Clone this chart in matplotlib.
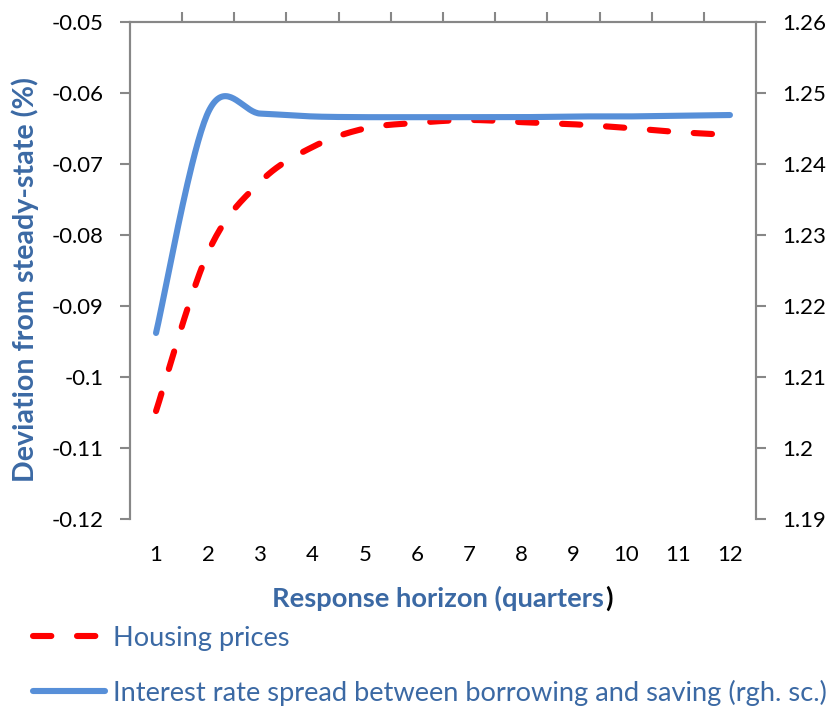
import matplotlib
matplotlib.use("Agg")
import matplotlib.pyplot as plt
from matplotlib.lines import Line2D
import numpy as np

plt.rcParams['font.family'] = ['Lato', 'DejaVu Sans']

quarters = [1, 2, 3, 4, 5, 6, 7, 8, 9, 10, 11, 12]
housing_prices = [-0.1048, -0.0824, -0.0725, -0.0676, -0.0650, -0.0642,
                  -0.0638, -0.0641, -0.0644, -0.0649, -0.0655, -0.0659]
rate_spread = [1.2162, 1.2473, 1.2471, 1.2467, 1.2466, 1.2466,
               1.2466, 1.2466, 1.2467, 1.2467, 1.2468, 1.2469]

left_ticks = [-0.12, -0.11, -0.1, -0.09, -0.08, -0.07, -0.06, -0.05]
left_labels = ['-0.12', '-0.11', '-0.1', '-0.09', '-0.08', '-0.07', '-0.06', '-0.05']
right_ticks = [1.19, 1.2, 1.21, 1.22, 1.23, 1.24, 1.25, 1.26]
right_labels = ['1.19', '1.2', '1.21', '1.22', '1.23', '1.24', '1.25', '1.26']

RED = '#FF0000'
BLUE = '#578FD8'
TXT = '#3B69A4'
GREY = '#878787'


def smooth(x, y, n=40):
    # spreadsheet-style smoothed line: cubic bezier with catmull-rom handles
    p = np.column_stack([x, y]).astype(float)
    ext = np.vstack([p[0], p, p[-1]])
    out = []
    for i in range(len(p) - 1):
        p0, p1, p2, p3 = ext[i], ext[i + 1], ext[i + 2], ext[i + 3]
        c1 = p1 + (p2 - p0) / 6.0
        c2 = p2 - (p3 - p1) / 6.0
        t = np.linspace(0, 1, n)[:, None]
        seg = ((1 - t) ** 3) * p1 + 3 * ((1 - t) ** 2) * t * c1 \
            + 3 * (1 - t) * t ** 2 * c2 + t ** 3 * p2
        out.append(seg if i == 0 else seg[1:])
    out = np.vstack(out)
    return out[:, 0], out[:, 1]


fig = plt.figure(figsize=(8.33, 7.06), dpi=100)


def size_for(text, px, weight='normal', rot=0):
    # font size that makes `text` span `px` pixels
    t = fig.text(0, 0, text, fontsize=20, fontweight=weight, rotation=rot)
    fig.canvas.draw()
    bb = t.get_window_extent()
    t.remove()
    return 20 * px / (bb.height if rot else bb.width)


tick_fs = size_for('-0.12', 52)
ylab_fs = size_for('Deviation from steady-state (%)', 405, 'bold', 90)
xlab_fs = size_for('Response horizon (quarters)', 340, 'bold')
leg_fs = size_for('Interest rate spread between borrowing and saving (rgh. sc.)', 718)

ax = fig.add_axes([0.156, 0.2649, 0.7516, 0.7039])
ax2 = ax.twinx()

hx, hy = smooth(quarters, housing_prices)
sx, sy = smooth(quarters, rate_spread)
ax.plot(hx, hy, color=RED, lw=4.4, dashes=(3.0, 4.2),
        dash_capstyle='round', solid_capstyle='round')
ax2.plot(sx, sy, color=BLUE, lw=4.4, solid_capstyle='round')

ax.set_xlim(0.5, 12.5)
ax.set_ylim(-0.12, -0.05)
ax2.set_ylim(1.19, 1.26)

ax.set_yticks(left_ticks)
ax.set_yticklabels(left_labels)
ax2.set_yticks(right_ticks)
ax2.set_yticklabels(right_labels)

ax.set_xticks(quarters)
ax.set_xticklabels([str(q) for q in quarters])
ax.set_xticks(np.arange(1.5, 12, 1.0), minor=True)
ax.tick_params(axis='x', which='major', length=0, pad=19, labelsize=tick_fs)
ax.tick_params(axis='x', which='minor', bottom=False, top=True,
               direction='out', length=7, width=1.5, color=GREY)
ax.tick_params(axis='y', direction='out', length=7, width=1.5, color=GREY,
               pad=12, labelsize=tick_fs)
ax2.tick_params(axis='y', direction='out', length=7, width=1.5, color=GREY,
                pad=12, labelsize=tick_fs)

for a in (ax, ax2):
    a.spines['bottom'].set_visible(False)
    for s in ('left', 'right', 'top'):
        a.spines[s].set_color(GREY)
        a.spines[s].set_linewidth(1.5)

fig.text(25 / 833, 1 - 280 / 706, 'Deviation from steady-state (%)',
         color=TXT, fontsize=ylab_fs, fontweight='bold', rotation=90,
         ha='center', va='center')

# axis title in two pieces: closing bracket is black
t1 = fig.text(272 / 833, 1 - 607 / 706, 'Response horizon (quarters',
              color=TXT, fontsize=xlab_fs, fontweight='bold',
              ha='left', va='baseline')
fig.canvas.draw()
bb = t1.get_window_extent()
fig.text(bb.x1 / fig.bbox.width + 0.001, 1 - 607 / 706, ')', color='black',
         fontsize=xlab_fs, fontweight='bold', ha='left', va='baseline')

handles = [Line2D([], [], color=RED, lw=4.4, dashes=(3.0, 4.2),
                  dash_capstyle='round'),
           Line2D([], [], color=BLUE, lw=4.4, solid_capstyle='round')]
labels = ['Housing prices',
          'Interest rate spread between borrowing and saving (rgh. sc.)']
leg = fig.legend(handles, labels, loc='upper left',
                 bbox_to_anchor=(33 / 833, 1 - 626 / 706), frameon=False,
                 fontsize=leg_fs, handlelength=2.65, handletextpad=0.28,
                 labelspacing=1.05, borderaxespad=0, borderpad=0)
for t in leg.get_texts():
    t.set_color(TXT)

fig.savefig('out.png', dpi=100)
